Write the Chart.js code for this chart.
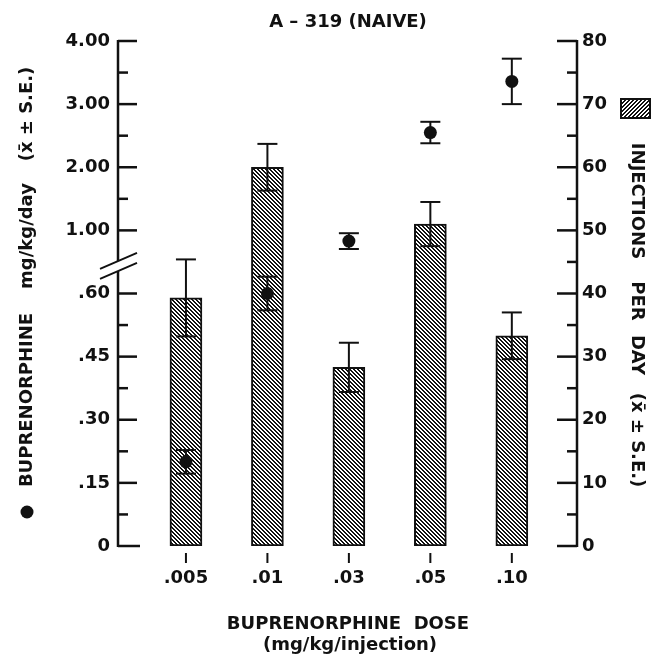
<!DOCTYPE html>
<html>
<head>
<meta charset="utf-8">
<script src="https://cdn.jsdelivr.net/npm/chart.js@4"></script>
<style>
  html, body { margin: 0; padding: 0; background: #fff; }
  canvas { display: block; }
</style>
</head>
<body>
<canvas id="grafik" width="653" height="655"></canvas>
<script>
const doses = [".005", ".01", ".03", ".05", ".10"];
const injections = [39.3, 60, 28.3, 51, 33.3];
const injectionsSE = [6.1, 3.7, 3.9, 3.5, 3.7];
const intake = [0.20, 0.60, 0.83, 2.55, 3.36];
const intakeSE = [0.028, 0.04, 0.125, 0.17, 0.36];
const leftTicks = [0, 0.15, 0.30, 0.45, 0.60, 1, 2, 3, 4];
const leftLabels = ["0", ".15", ".30", ".45", ".60", "1.00", "2.00", "3.00", "4.00"];
const leftMinor = [0.075, 0.225, 0.375, 0.525, 1.5, 2.5, 3.5];
const rightTicks = [0, 10, 20, 30, 40, 50, 60, 70, 80];
const rightMinor = [5, 15, 25, 35, 45, 55, 65, 75];

const INK = "#111";
const FONT = "DejaVu Sans";

// broken axis: 0-.60 in steps of .15, then 1.00-4.00 in steps of 1, same spacing
function toIndex(v) {
    return v < 0.68 ? v / 0.15 : v + 4;
}

class BrokenScale extends Chart.LinearScale {
    static id = "broken";
    static defaults = Chart.LinearScale.defaults;
    getPixelForValue(v) {
        return this.getPixelForDecimal(toIndex(v) / 8);
    }
    getValueForPixel(p) {
        const i = this.getDecimalForPixel(p) * 8;
        return i < 4.5 ? i * 0.15 : i - 4;
    }
}
Chart.register(BrokenScale);

const canvas = document.getElementById("grafik");
const ctx2d = canvas.getContext("2d");

function hatch(dir) {
    const c = document.createElement("canvas");
    c.width = c.height = 4;
    const g = c.getContext("2d");
    const img = g.createImageData(4, 4);
    for (let y = 0; y < 4; y++) {
        for (let x = 0; x < 4; x++) {
            const k = dir > 0 ? (x - y + 8) % 4 : (x + y) % 4;
            const v = k < 2 ? 17 : 255;
            const o = (y * 4 + x) * 4;
            img.data[o] = img.data[o + 1] = img.data[o + 2] = v;
            img.data[o + 3] = 255;
        }
    }
    g.putImageData(img, 0, 0);
    return ctx2d.createPattern(c, "repeat");
}

const hatchBars = hatch(1);
const hatchKey = hatch(-1);

function line(ctx, x1, y1, x2, y2) {
    ctx.beginPath();
    ctx.moveTo(x1, y1);
    ctx.lineTo(x2, y2);
    ctx.stroke();
}

function errorBar(ctx, px, top, bottom, half) {
    line(ctx, px, top, px, bottom);
    line(ctx, px - half, top, px + half, top);
    line(ctx, px - half, bottom, px + half, bottom);
}

function rotatedText(ctx, text, x, y, angle, font) {
    ctx.save();
    ctx.translate(x, y);
    ctx.rotate(angle);
    ctx.font = font;
    ctx.textAlign = "center";
    ctx.textBaseline = "middle";
    ctx.fillText(text, 0, 0);
    ctx.restore();
}

const errorPlugin = {
    id: "errors",
    afterDatasetsDraw(chart) {
        const { ctx, scales: { x, y, y2 } } = chart;
        ctx.save();
        ctx.strokeStyle = INK;
        ctx.lineWidth = 2;
        injections.forEach((v, i) => {
            const px = x.getPixelForValue(i);
            errorBar(ctx, px, y2.getPixelForValue(v + injectionsSE[i]), y2.getPixelForValue(v - injectionsSE[i]), 10);
        });
        intake.forEach((v, i) => {
            const px = x.getPixelForValue(i);
            errorBar(ctx, px, y.getPixelForValue(v + intakeSE[i]), y.getPixelForValue(v - intakeSE[i]), 10);
        });
        ctx.restore();
    }
};

const axesPlugin = {
    id: "axes",
    afterDraw(chart) {
        const { ctx, chartArea: a, scales: { x, y, y2 } } = chart;
        ctx.save();
        ctx.strokeStyle = INK;
        ctx.fillStyle = INK;
        ctx.lineCap = "butt";

        // left axis with break
        const yHi = y.getPixelForValue(1), yLo = y.getPixelForValue(0.6);
        const mid = (yHi + yLo) / 2 + 4;
        ctx.lineWidth = 2.5;
        line(ctx, a.left, y.getPixelForValue(4) - 1, a.left, mid - 5);
        line(ctx, a.left, mid + 5, a.left, y.getPixelForValue(0) + 1);
        ctx.lineWidth = 2;
        line(ctx, a.left - 18, mid + 3, a.left + 19, mid - 13);
        line(ctx, a.left - 18, mid + 13, a.left + 19, mid - 3);
        ctx.lineWidth = 2.5;
        leftTicks.forEach(v => {
            const py = y.getPixelForValue(v);
            line(ctx, a.left, py, a.left + (v === 0 ? 22 : 19), py);
        });
        leftMinor.forEach(v => {
            const py = y.getPixelForValue(v);
            line(ctx, a.left, py, a.left + 10, py);
        });

        // right axis
        line(ctx, a.right, y2.getPixelForValue(80) - 1, a.right, y2.getPixelForValue(0) + 1);
        rightTicks.forEach(v => {
            const py = y2.getPixelForValue(v);
            line(ctx, a.right - 20, py, a.right, py);
        });
        rightMinor.forEach(v => {
            const py = y2.getPixelForValue(v);
            line(ctx, a.right - 10, py, a.right, py);
        });

        // x tick marks
        ctx.lineWidth = 2;
        doses.forEach((d, i) => {
            const px = x.getPixelForValue(i);
            line(ctx, px, a.bottom + 7, px, a.bottom + 17);
        });

        // titles
        ctx.font = "bold 18px " + FONT;
        ctx.textAlign = "center";
        ctx.textBaseline = "middle";
        ctx.fillText("A \u2013 319 (NAIVE)", 348, 22);
        ctx.fillText("BUPRENORPHINE  DOSE", 348, 624);
        ctx.fillText("(mg/kg/injection)", 350, 645);

        const left = [["(x\u0304 \u00b1 S.E.)", 114], ["mg/kg/day", 236], ["BUPRENORPHINE", 400]];
        left.forEach(([t, cy]) => rotatedText(ctx, t, 27, cy, -Math.PI / 2, "bold 18px " + FONT));
        ctx.beginPath();
        ctx.arc(27, 512, 6.5, 0, Math.PI * 2);
        ctx.fill();

        const right = [["INJECTIONS", 201], ["PER", 301], ["DAY", 355], ["(x\u0304 \u00b1 S.E.)", 440]];
        right.forEach(([t, cy]) => rotatedText(ctx, t, 637, cy, Math.PI / 2, "bold 18px " + FONT));
        ctx.fillStyle = hatchKey;
        ctx.fillRect(621, 99, 29, 19);
        ctx.lineWidth = 2;
        ctx.strokeRect(621, 99, 29, 19);

        ctx.restore();
    }
};

Chart.defaults.font.family = FONT;
Chart.defaults.font.size = 18;
Chart.defaults.font.weight = "bold";
Chart.defaults.color = INK;

new Chart(canvas, {
    type: "bar",
    data: {
        datasets: [
            {
                type: "line",
                label: "mg/kg/day",
                data: intake.map((v, i) => ({ x: i, y: v })),
                xAxisID: "x",
                yAxisID: "y",
                showLine: false,
                pointRadius: 6.5,
                pointBackgroundColor: INK,
                pointBorderColor: INK,
                pointBorderWidth: 0,
                order: 0
            },
            {
                type: "bar",
                label: "injections per day",
                data: injections.map((v, i) => ({ x: i, y: v })),
                xAxisID: "x",
                yAxisID: "y2",
                backgroundColor: hatchBars,
                borderColor: INK,
                borderWidth: 2,
                borderSkipped: false,
                barThickness: 32,
                order: 1
            }
        ]
    },
    options: {
        responsive: false,
        animation: false,
        events: [],
        layout: { padding: { top: 41, left: 0, right: 0, bottom: 0 } },
        plugins: {
            legend: { display: false },
            tooltip: { enabled: false }
        },
        scales: {
            x: {
                type: "linear",
                position: "bottom",
                offset: false,
                min: -0.834,
                max: 4.8,
                grid: { display: false, drawTicks: false, offset: false },
                border: { display: false },
                afterBuildTicks: s => { s.ticks = doses.map((d, i) => ({ value: i })); },
                afterFit: s => { s.height = 109; },
                ticks: {
                    autoSkip: false,
                    maxRotation: 0,
                    padding: 22,
                    callback: (v, i) => doses[i]
                }
            },
            y: {
                type: "broken",
                position: "left",
                min: 0,
                max: 4,
                grid: { display: false, drawTicks: false },
                border: { display: false },
                afterBuildTicks: s => { s.ticks = leftTicks.map(v => ({ value: v })); },
                afterFit: s => { s.width = 118; },
                ticks: {
                    autoSkip: false,
                    padding: 8,
                    callback: (v, i) => leftLabels[i]
                }
            },
            y2: {
                type: "linear",
                position: "right",
                min: 0,
                max: 80,
                grid: { display: false, drawTicks: false },
                border: { display: false },
                afterBuildTicks: s => { s.ticks = rightTicks.map(v => ({ value: v })); },
                afterFit: s => { s.width = 76; },
                ticks: {
                    autoSkip: false,
                    padding: 5,
                    callback: v => String(v)
                }
            }
        }
    },
    plugins: [errorPlugin, axesPlugin]
});
</script>
</body>
</html>
